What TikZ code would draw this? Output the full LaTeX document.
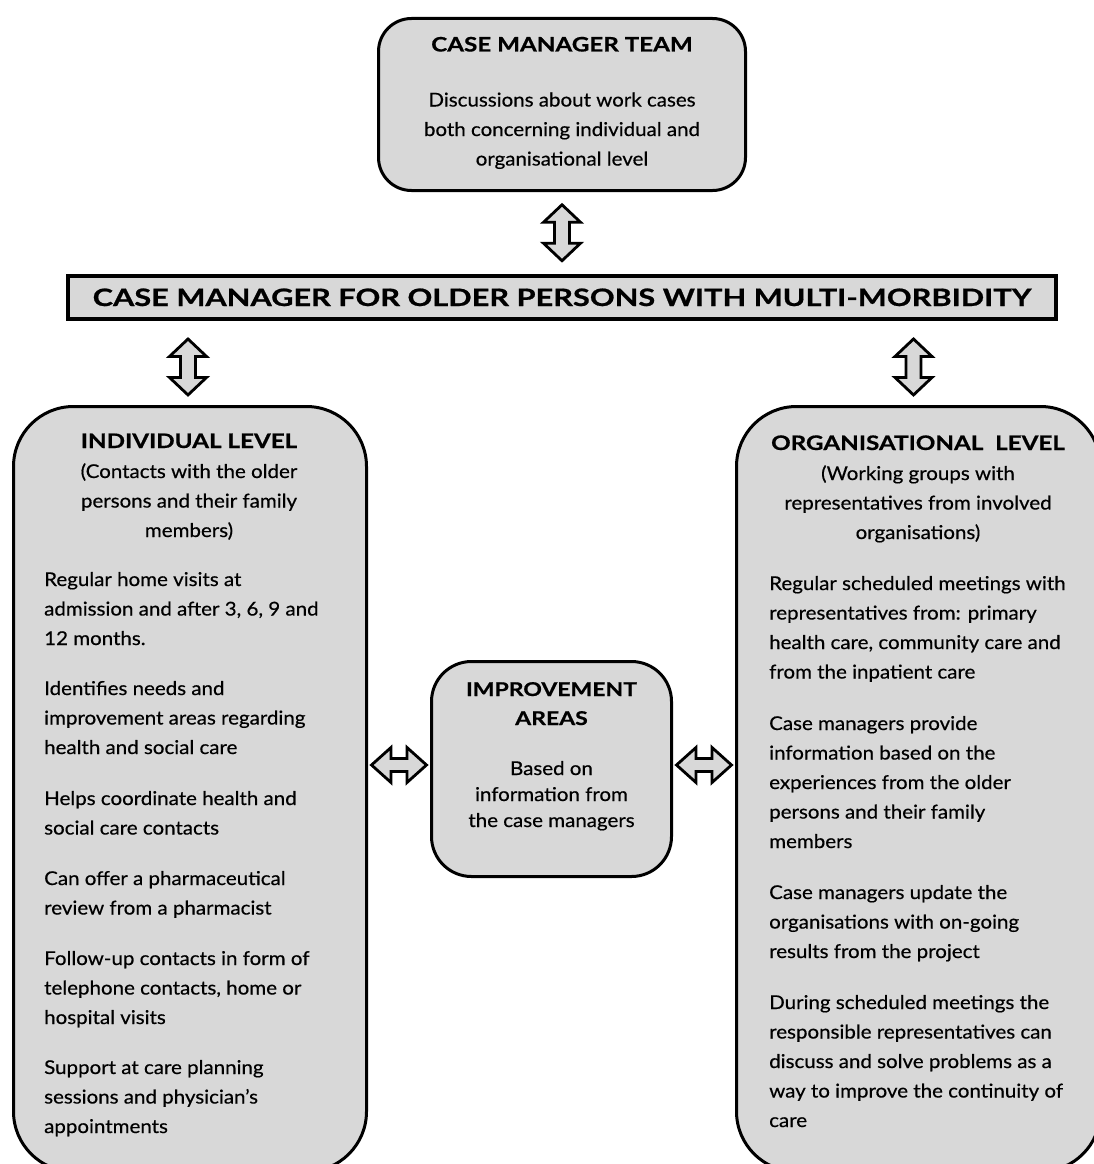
\documentclass[tikz,border=0pt]{standalone}
\usepackage{fontspec}
\setmainfont{Lato}[FakeStretch=1.08, FakeBold=0.5]
\newfontfamily\headfont{Lato}[FakeStretch=1.21, FakeBold=0.7]
\newfontfamily\barfont{Lato}[FakeStretch=1.28, FakeBold=0.8]
\usetikzlibrary{calc}
\definecolor{boxgray}{RGB}{216,216,216}
\newcommand{\bodysize}{\fontsize{19}{29.5}\selectfont}
\newcommand{\titlesize}{\headfont\fontsize{20}{29.5}\selectfont\bfseries}
\begin{document}
\begin{tikzpicture}[x=1pt,y=-1pt,
  boxshape/.style={draw=black, fill=boxgray, line width=3pt, rounded corners=#1, inner sep=0pt},
  barshape/.style={draw=black, fill=boxgray, line width=4pt, inner sep=0pt},
  fatarrow/.style={draw=black, fill=boxgray, line width=2.8pt, line join=miter},
  para/.style={anchor=base west, inner sep=0pt, font=\bodysize},
  ctext/.style={anchor=base, inner sep=0pt},
  vdarrow/.pic={\draw[fatarrow] (0,-28) -- (18.5,-10.5) -- (7.5,-10.5) -- (7.5,10.5) -- (18.5,10.5) -- (0,28) -- (-18.5,10.5) -- (-7.5,10.5) -- (-7.5,-10.5) -- (-18.5,-10.5) -- cycle;},
  hdarrow/.pic={\draw[fatarrow] (-27.5,0) -- (-8,-17.5) -- (-8,-6.5) -- (8,-6.5) -- (8,-17.5) -- (27.5,0) -- (8,17.5) -- (8,6.5) -- (-8,6.5) -- (-8,17.5) -- cycle;}
]
\useasboundingbox (0,0) rectangle (1094,1164);
\clip (0,0) rectangle (1094,1164);
\fill[white] (0,0) rectangle (1094,1164);

% boxes
\node[boxshape=33pt, minimum width=367pt, minimum height=172pt] (team) at (562,104.5) {};
\node[barshape, minimum width=988pt, minimum height=43pt] (bar) at (562,297) {};
\node[boxshape=60pt, minimum width=353pt, minimum height=765pt] (ind) at (190,789) {};
\node[boxshape=60pt, minimum width=364pt, minimum height=765pt] (org) at (918.5,789) {};
\node[boxshape=40pt, minimum width=240pt, minimum height=215pt] (imp) at (551.5,769) {};

% connectors
\pic at ($(team.south)!0.5!(bar.north)$) {vdarrow};
\pic at ($(ind.north |- bar.south)!0.55!(ind.north)+(-2,0)$) {vdarrow};
\pic at ($(org.north |- bar.south)!0.55!(org.north)+(-5,0)$) {vdarrow};
\pic at ($(ind.east)!0.5!(imp.west |- ind.east)+(0,-24)$) {hdarrow};
\pic at ($(imp.east |- ind.east)!0.5!(org.west |- ind.east)+(0,-24)$) {hdarrow};

% top box text
\node[ctext, font=\titlesize] (teamtitle) at (562,51.5) {CASE MANAGER TEAM};
\node[ctext, font=\bodysize] (teamtext) at (562,106.5) {\parbox[t]{360pt}{\centering Discussions about work cases\\ both concerning individual and\\ organisational level}};

% bar text
\node[ctext, font=\barfont\fontsize{24}{30}\selectfont\bfseries] (bartext) at (562,306) {CASE MANAGER FOR OLDER PERSONS WITH MULTI-MORBIDITY};

% individual level
\node[ctext, font=\titlesize] (indtitle) at (189,448) {INDIVIDUAL LEVEL};
\node[ctext, font=\bodysize] (indsub) at (189,478) {\parbox[t]{340pt}{\centering (Contacts with the older\\ persons and their family\\ members)}};
\node[para] (i1) at (44,586) {\parbox[t]{320pt}{Regular home visits at\\ admission and after 3, 6, 9 and\\ 12 months.}};
\node[para] (i2) at (44,695) {\parbox[t]{320pt}{Identifies needs and\\ improvement areas regarding\\ health and social care}};
\node[para] (i3) at (44,805) {\parbox[t]{320pt}{Helps coordinate health and\\ social care contacts}};
\node[para] (i4) at (44,885) {\parbox[t]{320pt}{Can offer a pharmaceutical\\ review from a pharmacist}};
\node[para] (i5) at (44,965) {\parbox[t]{320pt}{Follow-up contacts in form of\\ telephone contacts, home or\\ hospital visits}};
\node[para] (i6) at (44,1074) {\parbox[t]{320pt}{Support at care planning\\ sessions and physician's\\ appointments}};

% organisational level
\node[ctext, font=\titlesize] (orgtitle) at (918,450) {ORGANISATIONAL\ \ LEVEL};
\node[ctext, font=\bodysize] (orgsub) at (918,480) {\parbox[t]{350pt}{\centering (Working groups with\\ representatives from involved\\ organisations)}};
\node[para] (o1) at (769,590) {\parbox[t]{330pt}{Regular scheduled meetings with\\ representatives from: primary\\ health care, community care and\\ from the inpatient care}};
\node[para] (o2) at (769,730) {\parbox[t]{330pt}{Case managers provide\\ information based on the\\ experiences from the older\\ persons and their family\\ members}};
\node[para] (o3) at (769,899) {\parbox[t]{330pt}{Case managers update the\\ organisations with on-going\\ results from the project}};
\node[para] (o4) at (769,1009) {\parbox[t]{330pt}{During scheduled meetings the\\ responsible representatives can\\ discuss and solve problems as a\\ way to improve the continuity of\\ care}};

% improvement areas
\node[ctext, font=\headfont\fontsize{19}{29}\selectfont\bfseries] (imptitle) at (551.5,696) {\parbox[t]{230pt}{\centering IMPROVEMENT\\ AREAS}};
\node[ctext, font=\fontsize{19}{26}\selectfont] (imptext) at (551.5,775) {\parbox[t]{230pt}{\centering Based on\\ information from\\ the case managers}};
\end{tikzpicture}
\end{document}
